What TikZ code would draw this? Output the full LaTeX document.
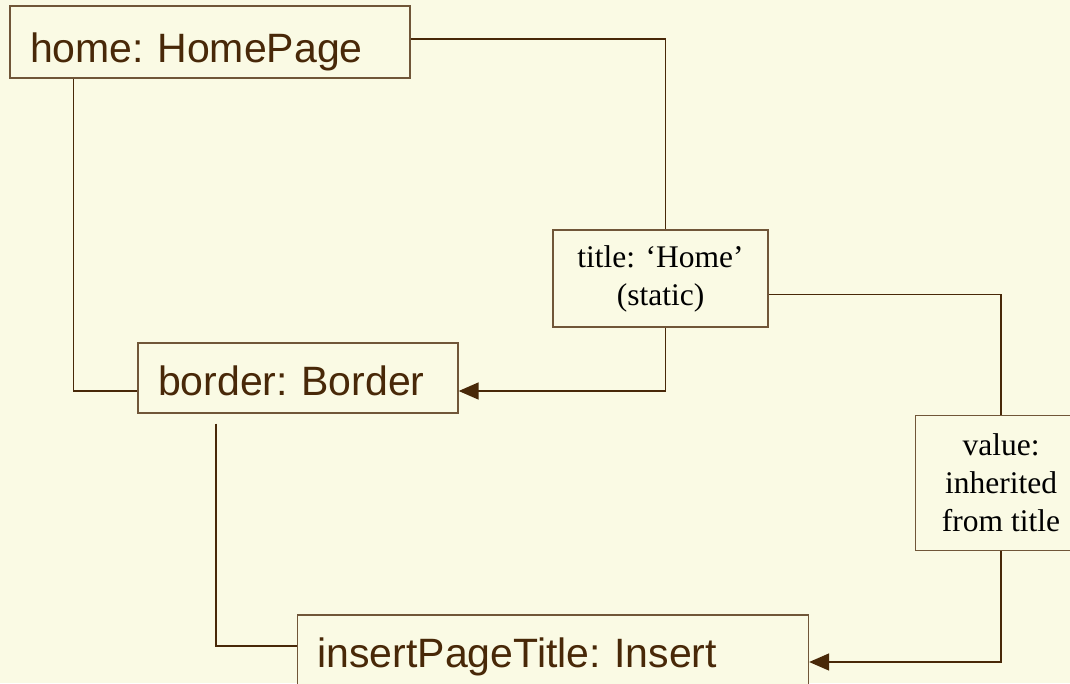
\documentclass[tikz,border=0pt]{standalone}
\usepackage{fontspec}
\setmainfont{Liberation Serif}
\setsansfont{Liberation Sans}
\usetikzlibrary{arrows.meta,calc}

\definecolor{paper}{RGB}{250,250,228}
\definecolor{ink}{RGB}{72,40,8}
\definecolor{frame}{RGB}{112,86,56}

\begin{document}
\begin{tikzpicture}[%
    x=1pt, y=-1pt,
    >={Triangle[length=20pt,width=17pt]},
    obj/.style={draw=frame, line width=1.3pt, fill=paper, text=ink,
      font=\sffamily\fontsize{41}{49}\selectfont\frenchspacing, align=left,
      inner xsep=20pt, inner ysep=0pt, text depth=0pt},
    note/.style={draw=frame, line width=1.3pt, fill=paper, align=center,
      font=\rmfamily\fontsize{31.5}{38}\selectfont, inner sep=0pt},
    link/.style={draw=ink, line width=1.6pt}
  ]
    \fill[paper] (0,0) rectangle (1070,683);
    \useasboundingbox (0,0) rectangle (1070,683);

    \node[obj, text width=360pt, text height=40pt, minimum height=72pt] (home) at (210,42) {home: HomePage};
    \node[obj, text width=280pt, text height=34pt, minimum height=70pt] (border) at (298,378) {border: Border};
    \node[obj, text width=471pt, text height=20pt, minimum height=84pt] (insert) at (553,657) {insertPageTitle: Insert};
    \node[note, minimum width=215pt, minimum height=97pt] (title) at (660.5,278.5) {title: `Home'\\(static)};
    \node[note, minimum width=171pt, minimum height=135pt] (value) at (1001,483) {value:\\inherited\\from title};

    \draw[link] ($(home.south west)+(64,0)$) |- ($(border.west)+(0,13)$);
    \draw[link] ($(home.east)+(0,-3)$) -| ($(title.north)+(5,0)$);
    \draw[link,->] ($(title.south)+(5,0)$) |- ($(border.east)+(0,13)$);
    \draw[link] ($(title.east)+(0,16)$) -| (value.north);
    \draw[link,->] (value.south) |- ($(insert.east)+(0,5)$);
    \draw[link] ($(border.south)+(-82,10)$) |- ($(insert.west)+(0,-11)$);
  \end{tikzpicture}
\end{document}
